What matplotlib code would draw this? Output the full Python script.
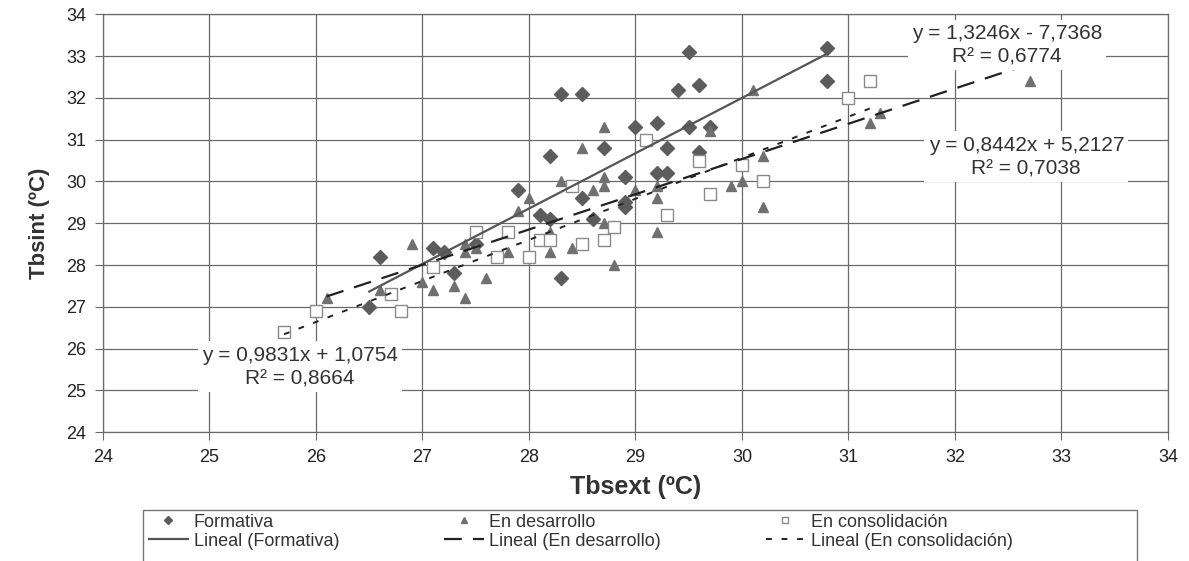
import numpy as np
import matplotlib
matplotlib.use("Agg")
import matplotlib.pyplot as plt
from matplotlib.lines import Line2D
from matplotlib.patches import Rectangle

plt.rcParams["font.family"] = ["Liberation Sans", "DejaVu Sans"]

# ── Data ──────────────────────────────────────────────────────────────────────

form_x = [26.5, 26.6, 27.1, 27.2, 27.3, 27.5, 27.9, 28.1, 28.2, 28.2, 28.3, 28.3,
          28.5, 28.5, 28.6, 28.7, 28.9, 28.9, 28.9, 29.0, 29.2, 29.2, 29.3, 29.3,
          29.4, 29.5, 29.5, 29.6, 29.6, 29.7, 30.8, 30.8]
form_y = [27.0, 28.2, 28.4, 28.3, 27.8, 28.5, 29.8, 29.2, 29.1, 30.6, 32.1, 27.7,
          32.1, 29.6, 29.1, 30.8, 30.1, 29.4, 29.5, 31.3, 31.4, 30.2, 30.2, 30.8,
          32.2, 33.1, 31.3, 32.3, 30.7, 31.3, 33.2, 32.4]

des_x = [26.1, 26.6, 26.9, 27.0, 27.1, 27.3, 27.4, 27.4, 27.5, 27.6, 27.4, 27.8,
         27.9, 28.0, 28.2, 28.2, 28.3, 28.4, 28.5, 28.6, 28.7, 28.7, 28.7, 28.7,
         28.8, 29.0, 29.2, 29.2, 29.2, 29.7, 29.9, 30.0, 30.1, 30.2, 30.2, 31.2,
         31.3, 32.7]
des_y = [27.2, 27.4, 28.5, 27.6, 27.4, 27.5, 27.2, 28.3, 28.4, 27.7, 28.5, 28.3,
         29.3, 29.6, 28.8, 28.3, 30.0, 28.4, 30.8, 29.8, 31.3, 30.1, 29.9, 29.0,
         28.0, 29.8, 29.9, 29.6, 28.8, 31.2, 29.9, 30.0, 32.2, 30.6, 29.4, 31.4,
         31.65, 32.4]

con_x = [25.7, 26.0, 26.7, 26.8, 27.1, 27.5, 27.7, 27.8, 28.0, 28.1, 28.2, 28.4,
         28.5, 28.7, 28.8, 29.1, 29.3, 29.6, 29.7, 30.0, 30.2, 31.0, 31.2]
con_y = [26.4, 26.9, 27.3, 26.9, 27.95, 28.8, 28.2, 28.8, 28.2, 28.6, 28.6, 29.9,
         28.5, 28.6, 28.9, 31.0, 29.2, 30.5, 29.7, 30.4, 30.0, 32.0, 32.4]

# trend lines as printed on the chart (slope, intercept, R²)
fit_slope = [1.3246, 0.8442, 0.9831]
fit_icept = [-7.7368, 5.2127, 1.0754]
fit_labels = ["y = 1,3246x - 7,7368\nR² = 0,6774",
              "y = 0,8442x + 5,2127\nR² = 0,7038",
              "y = 0,9831x + 1,0754\nR² = 0,8664"]
label_pos = [(32.49, 33.27), (32.67, 30.59), (25.85, 25.56)]

ticks = list(range(24, 35))

# ── Figure ────────────────────────────────────────────────────────────────────

fig = plt.figure(figsize=(11.89, 5.61), dpi=100)
ax = fig.add_axes([0.0866, 0.2299, 0.8957, 0.7443])

ax.set_xlim(24, 34)
ax.set_ylim(24, 34)
ax.set_xticks(ticks)
ax.set_yticks(ticks)
ax.grid(True, color="#6a6a6a", linewidth=0.9)
ax.set_axisbelow(True)
for s in ax.spines.values():
    s.set_color("#6a6a6a")
    s.set_linewidth(0.9)
ax.tick_params(direction="out", length=6, color="#6a6a6a", labelsize=13,
               labelcolor="#222222", pad=6)

grey_d = "#5c5c5c"
grey_t = "#707070"

ax.plot(form_x, form_y, "D", color=grey_d, ms=7, mec=grey_d, zorder=3)
ax.plot(des_x, des_y, "^", color=grey_t, ms=7.5, mec=grey_t, zorder=3)
ax.plot(con_x, con_y, "s", mfc="white", mec="#8a8a8a", mew=1.0, ms=8, zorder=3)

series_x = [form_x, des_x, con_x]
styles = [dict(color="#555555", lw=1.6, ls="-"),
          dict(color="#222222", lw=1.6, ls=(0, (8, 5))),
          dict(color="#222222", lw=1.4, ls=(0, (3, 5)))]
for xs, m, b, st in zip(series_x, fit_slope, fit_icept, styles):
    xx = np.array([min(xs), max(xs)])
    ax.plot(xx, m * xx + b, zorder=4, **st)

for txt, (tx, ty) in zip(fit_labels, label_pos):
    ax.text(tx, ty, txt, ha="center", va="center", fontsize=15, color="#333333",
            linespacing=1.3, zorder=5,
            bbox=dict(facecolor="white", edgecolor="none", pad=3))

ax.set_xlabel("Tbsext (ºC)", fontsize=18, fontweight="bold", color="#333333",
              labelpad=7)
ax.set_ylabel("Tbsint (ºC)", fontsize=16, fontweight="bold", color="#333333",
              labelpad=12)

# ── Legend ────────────────────────────────────────────────────────────────────

handles = [
    Line2D([], [], ls="none", marker="D", color=grey_d, ms=4),
    Line2D([], [], **styles[0]),
    Line2D([], [], ls="none", marker="^", color=grey_t, ms=4),
    Line2D([], [], **styles[1]),
    Line2D([], [], ls="none", marker="s", mfc="white", mec="#8a8a8a", ms=5),
    Line2D([], [], **styles[2]),
]
names = ["Formativa", "Lineal (Formativa)", "En desarrollo",
         "Lineal (En desarrollo)", "En consolidación", "Lineal (En consolidación)"]
fig.patches.append(Rectangle((143 / 1189, -0.01), (1137 - 143) / 1189, 0.101,
                             transform=fig.transFigure, facecolor="none",
                             edgecolor="#777777", linewidth=1.0))
leg = fig.legend(handles, names, ncol=3, loc="upper left",
                 bbox_to_anchor=(145 / 1189, 0.091), frameon=False,
                 fontsize=13, handlelength=2.2, handletextpad=0.3,
                 columnspacing=5.8, borderaxespad=0, borderpad=0.2,
                 labelspacing=0.12)
for t in leg.get_texts():
    t.set_color("#333333")

fig.savefig("out.png", dpi=100)
